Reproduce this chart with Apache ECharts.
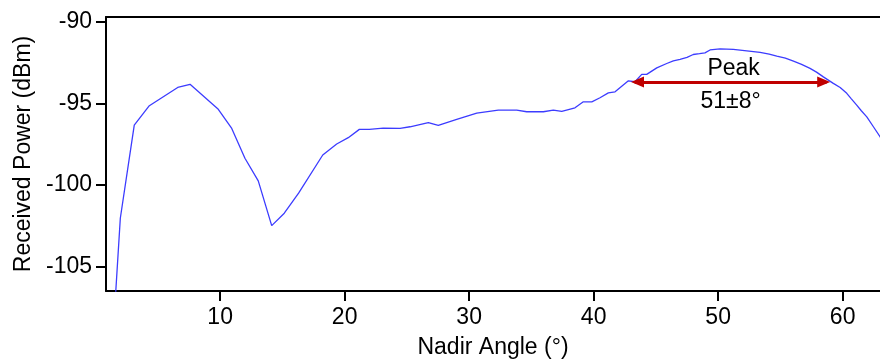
<!DOCTYPE html>
<html>
<head>
<meta charset="utf-8">
<script src="https://cdn.jsdelivr.net/npm/echarts@6/dist/echarts.min.js"></script>
<style>
  html, body { margin: 0; padding: 0; background: #fff; }
  #chart { width: 880px; height: 359px; }
</style>
</head>
<body>
<div id="chart"></div>
<script>
// Received power versus nadir angle (degrees, dBm)
const angles = [
  0.9, 1.98, 3.1, 4.28, 6.59, 7.58, 9.85, 10.93, 11.99, 13.06, 14.14, 15.15,
  16.3, 18.24, 19.36, 20.29, 21.18, 21.98, 23.1, 24.45, 25.25, 26.72, 27.52,
  29.0, 30.61, 32.34, 33.82, 34.62, 35.96, 36.76, 37.44, 38.5, 39.17, 39.85,
  40.51, 41.18, 41.72, 42.79, 43.32, 43.86, 44.26, 45.07, 45.87, 46.4, 46.94,
  47.5, 48.0, 48.5, 48.94, 49.35, 50.15, 51.22, 52.3, 53.37, 54.1, 54.71,
  55.4, 56.05, 56.7, 57.38, 57.9, 58.45, 59.25, 59.8, 60.33, 60.7, 61.13,
  61.5, 61.94, 62.47, 63.0, 63.5
];
const power = [
  -115.3, -102.04, -96.33, -95.16, -94.02, -93.83, -95.36, -96.53, -98.36, -99.75, -102.49, -101.73,
  -100.5, -98.16, -97.49, -97.1, -96.59, -96.59, -96.51, -96.53, -96.43, -96.18, -96.34,
  -95.98, -95.59, -95.41, -95.41, -95.51, -95.51, -95.41, -95.49, -95.27, -94.9, -94.9,
  -94.65, -94.35, -94.29, -93.61, -93.67, -93.22, -93.22, -92.82, -92.55, -92.39, -92.3,
  -92.18, -92.0, -91.95, -91.9, -91.72, -91.66, -91.69, -91.78, -91.87, -91.98, -92.1,
  -92.22, -92.41, -92.6, -92.85, -93.08, -93.37, -93.77, -94.02, -94.38, -94.72, -95.1,
  -95.45, -95.82, -96.43, -97.04, -97.5
];

// Axis ticks and annotation values
const xTicks = [10, 20, 30, 40, 50, 60];
const yTicks = [-105, -100, -95, -90];
const peakCenter = 51;
const peakSpread = 8;
const peakLevel = -93.69;
const peakTitle = 'Peak';
const peakText = '51\u00b18\u00b0';

const FONT = '"Liberation Sans", Arial, sans-serif';
const FS = 23;
const ARROW_RED = '#c00000';
const chart = echarts.init(document.getElementById('chart'), null, { renderer: 'canvas' });

const axisLineStyle = { color: '#000', width: 2 };
const peakLo = peakCenter - peakSpread;
const peakHi = peakCenter + peakSpread;

chart.setOption({
  animation: false,
  backgroundColor: '#fff',
  grid: { left: 106, right: 0, top: 17, bottom: 68, containLabel: false, outerBoundsMode: 'none' },
  xAxis: [
    {
      type: 'value',
      min: 0.83,
      max: 63.0,
      position: 'bottom',
      name: 'Nadir Angle (\u00b0)',
      nameLocation: 'middle',
      nameGap: 45,
      nameTextStyle: { fontFamily: FONT, fontSize: FS, color: '#000' },
      axisLine: { show: true, onZero: false, lineStyle: axisLineStyle },
      axisTick: { show: true, length: 10, inside: false, customValues: xTicks, lineStyle: { color: '#000', width: 2 } },
      axisLabel: { show: true, margin: 15, customValues: xTicks, fontFamily: FONT, fontSize: FS, color: '#000' },
      splitLine: { show: false }
    },
    {
      type: 'value',
      min: 0.83,
      max: 63.0,
      position: 'top',
      axisLine: { show: true, onZero: false, lineStyle: axisLineStyle },
      axisTick: { show: false },
      axisLabel: { show: false },
      splitLine: { show: false }
    }
  ],
  yAxis: {
    type: 'value',
    min: -106.5,
    max: -89.7,
    name: 'Received Power (dBm)',
    nameLocation: 'middle',
    nameGap: 69,
    nameTextStyle: { fontFamily: FONT, fontSize: FS, color: '#000' },
    axisLine: { show: true, onZero: false, lineStyle: axisLineStyle },
    axisTick: { show: true, length: 10, inside: false, customValues: yTicks, lineStyle: { color: '#000', width: 2 } },
    axisLabel: { show: true, margin: 14, customValues: yTicks, fontFamily: FONT, fontSize: FS, color: '#000' },
    splitLine: { show: false }
  },
  series: [
    {
      type: 'line',
      xAxisIndex: 0,
      data: angles.map((a, i) => [a, power[i]]),
      showSymbol: false,
      symbol: 'none',
      clip: true,
      lineStyle: { color: '#3c3cff', width: 1.3 },
      // shaft of the double-headed peak-width arrow
      markLine: {
        silent: true,
        symbol: ['none', 'none'],
        label: { show: false },
        lineStyle: { color: ARROW_RED, width: 3, type: 'solid' },
        data: [[
          { coord: [peakLo + 0.3, peakLevel] },
          { coord: [peakHi - 0.3, peakLevel] }
        ]]
      },
      // arrow heads (tips on the interval ends) and the text above/below
      markPoint: {
        silent: true,
        data: [
          {
            coord: [peakLo, peakLevel],
            symbol: 'triangle', symbolSize: [11, 13], symbolRotate: 90, symbolOffset: [6.5, 0],
            itemStyle: { color: ARROW_RED },
            label: { show: false }
          },
          {
            coord: [peakHi, peakLevel],
            symbol: 'triangle', symbolSize: [11, 13], symbolRotate: -90, symbolOffset: [-6.5, 0],
            itemStyle: { color: ARROW_RED },
            label: { show: false }
          },
          {
            coord: [peakCenter, peakLevel],
            symbol: 'circle', symbolSize: 0,
            label: { show: true, position: 'inside', formatter: peakTitle, offset: [3, -13], fontFamily: FONT, fontSize: FS, color: '#000' }
          },
          {
            coord: [peakCenter, peakLevel],
            symbol: 'circle', symbolSize: 0,
            label: { show: true, position: 'inside', formatter: peakText, offset: [0, 20], fontFamily: FONT, fontSize: FS, color: '#000' }
          }
        ]
      }
    }
  ]
});
</script>
</body>
</html>
